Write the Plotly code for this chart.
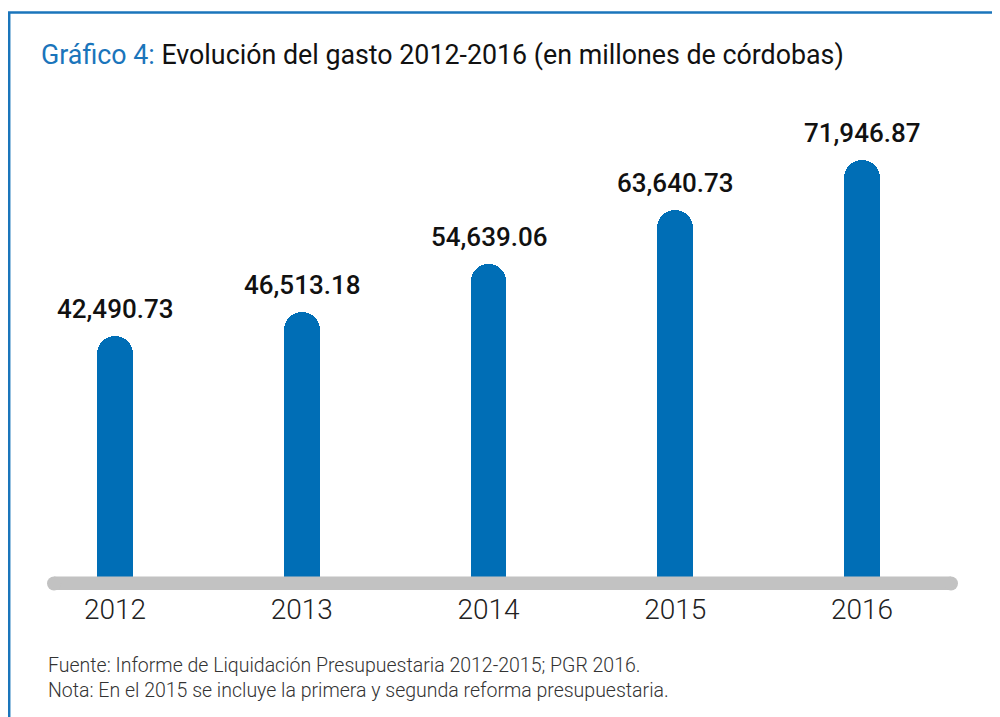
import plotly.graph_objects as go

years = ["2012", "2013", "2014", "2015", "2016"]
gasto = [42490.73, 46513.18, 54639.06, 63640.73, 71946.87]
labels = ["42,490.73", "46,513.18", "54,639.06", "63,640.73", "71,946.87"]

title_prefix = "Gráfico 4:"
title_rest = " Evolución del gasto 2012-2016 (en millones de córdobas)"
nota1 = "Fuente: Informe de Liquidación Presupuestaria 2012-2015; PGR 2016."
nota2 = "Nota: En el 2015 se incluye la primera y segunda reforma presupuestaria."

BLUE = "#006eb6"
TITLE_BLUE = "#1a75bb"
GRAY = "#c2c2c2"
FONT = "Roboto"

OFF = 8  # page body margin
W, H = 1000 - OFF, 717 - OFF
TOP, BOTTOM = 52 - OFF, 590 - OFF  # plot area pixel bounds (figure coords)
PH = BOTTOM - TOP

def py(p):
    """reference page pixel y -> paper y"""
    return (BOTTOM - (p - OFF)) / PH

def px(p):
    """reference page pixel x -> paper x"""
    return (p - OFF) / W

fig = go.Figure()

fig.add_trace(go.Bar(
    x=list(range(len(years))), y=gasto,
    marker=dict(color=BLUE, cornerradius="50%", line=dict(width=0)),
    width=0.192, hoverinfo="skip", showlegend=False,
))

# grey baseline with rounded ends
ymax = 90070
base_val = (590 - 583.5) / PH * ymax
fig.add_trace(go.Scatter(
    x=[-0.3266, 4.4766], y=[base_val, base_val], mode="lines+markers",
    line=dict(color=GRAY, width=14), marker=dict(color=GRAY, size=14),
    hoverinfo="skip", showlegend=False, cliponaxis=False,
))

for i, (v, t) in enumerate(zip(gasto, labels)):
    fig.add_annotation(x=i, y=v, text=t, showarrow=False, yanchor="bottom",
                       yshift=10, font=dict(family=FONT, size=26, color="#111111", weight=500))

fig.add_annotation(
    xref="paper", yref="paper", x=px(39), y=py(55), xanchor="left", yanchor="middle",
    text=f"<span style='color:{TITLE_BLUE}'>{title_prefix}</span>{title_rest}",
    showarrow=False, font=dict(family=FONT, size=26.8, color="#111111", weight=400),
)
fig.add_annotation(xref="paper", yref="paper", x=px(46), y=py(665), xanchor="left",
                   yanchor="middle", text=nota1, showarrow=False,
                   font=dict(family=FONT, size=19.5, color="#333333", weight=300))
fig.add_annotation(xref="paper", yref="paper", x=px(46), y=py(690), xanchor="left",
                   yanchor="middle", text=nota2, showarrow=False,
                   font=dict(family=FONT, size=19.5, color="#333333", weight=300))

# frame lines (left and top)
fig.add_shape(type="line", xref="paper", yref="paper", x0=px(9.2), x1=px(9.2),
              y0=py(12.5), y1=py(717), line=dict(color=TITLE_BLUE, width=2.5))
fig.add_shape(type="line", xref="paper", yref="paper", x0=px(8), x1=1,
              y0=py(12.5), y1=py(12.5), line=dict(color=TITLE_BLUE, width=2.5))

fig.update_layout(
    width=W, height=H,
    margin=dict(l=0, r=0, t=TOP, b=H - BOTTOM, pad=0),
    plot_bgcolor="white", paper_bgcolor="white",
    xaxis=dict(range=[-107 / 186.75, 4.739], tickmode="array",
               tickvals=list(range(len(years))), ticktext=years,
               showgrid=False, zeroline=False, showline=False, ticks="",
               tickfont=dict(family=FONT, size=28, color="#222222", weight=300),
               fixedrange=True),
    yaxis=dict(range=[0, ymax], visible=False, fixedrange=True),
    bargap=0,
)

fig.write_html("out.html")
